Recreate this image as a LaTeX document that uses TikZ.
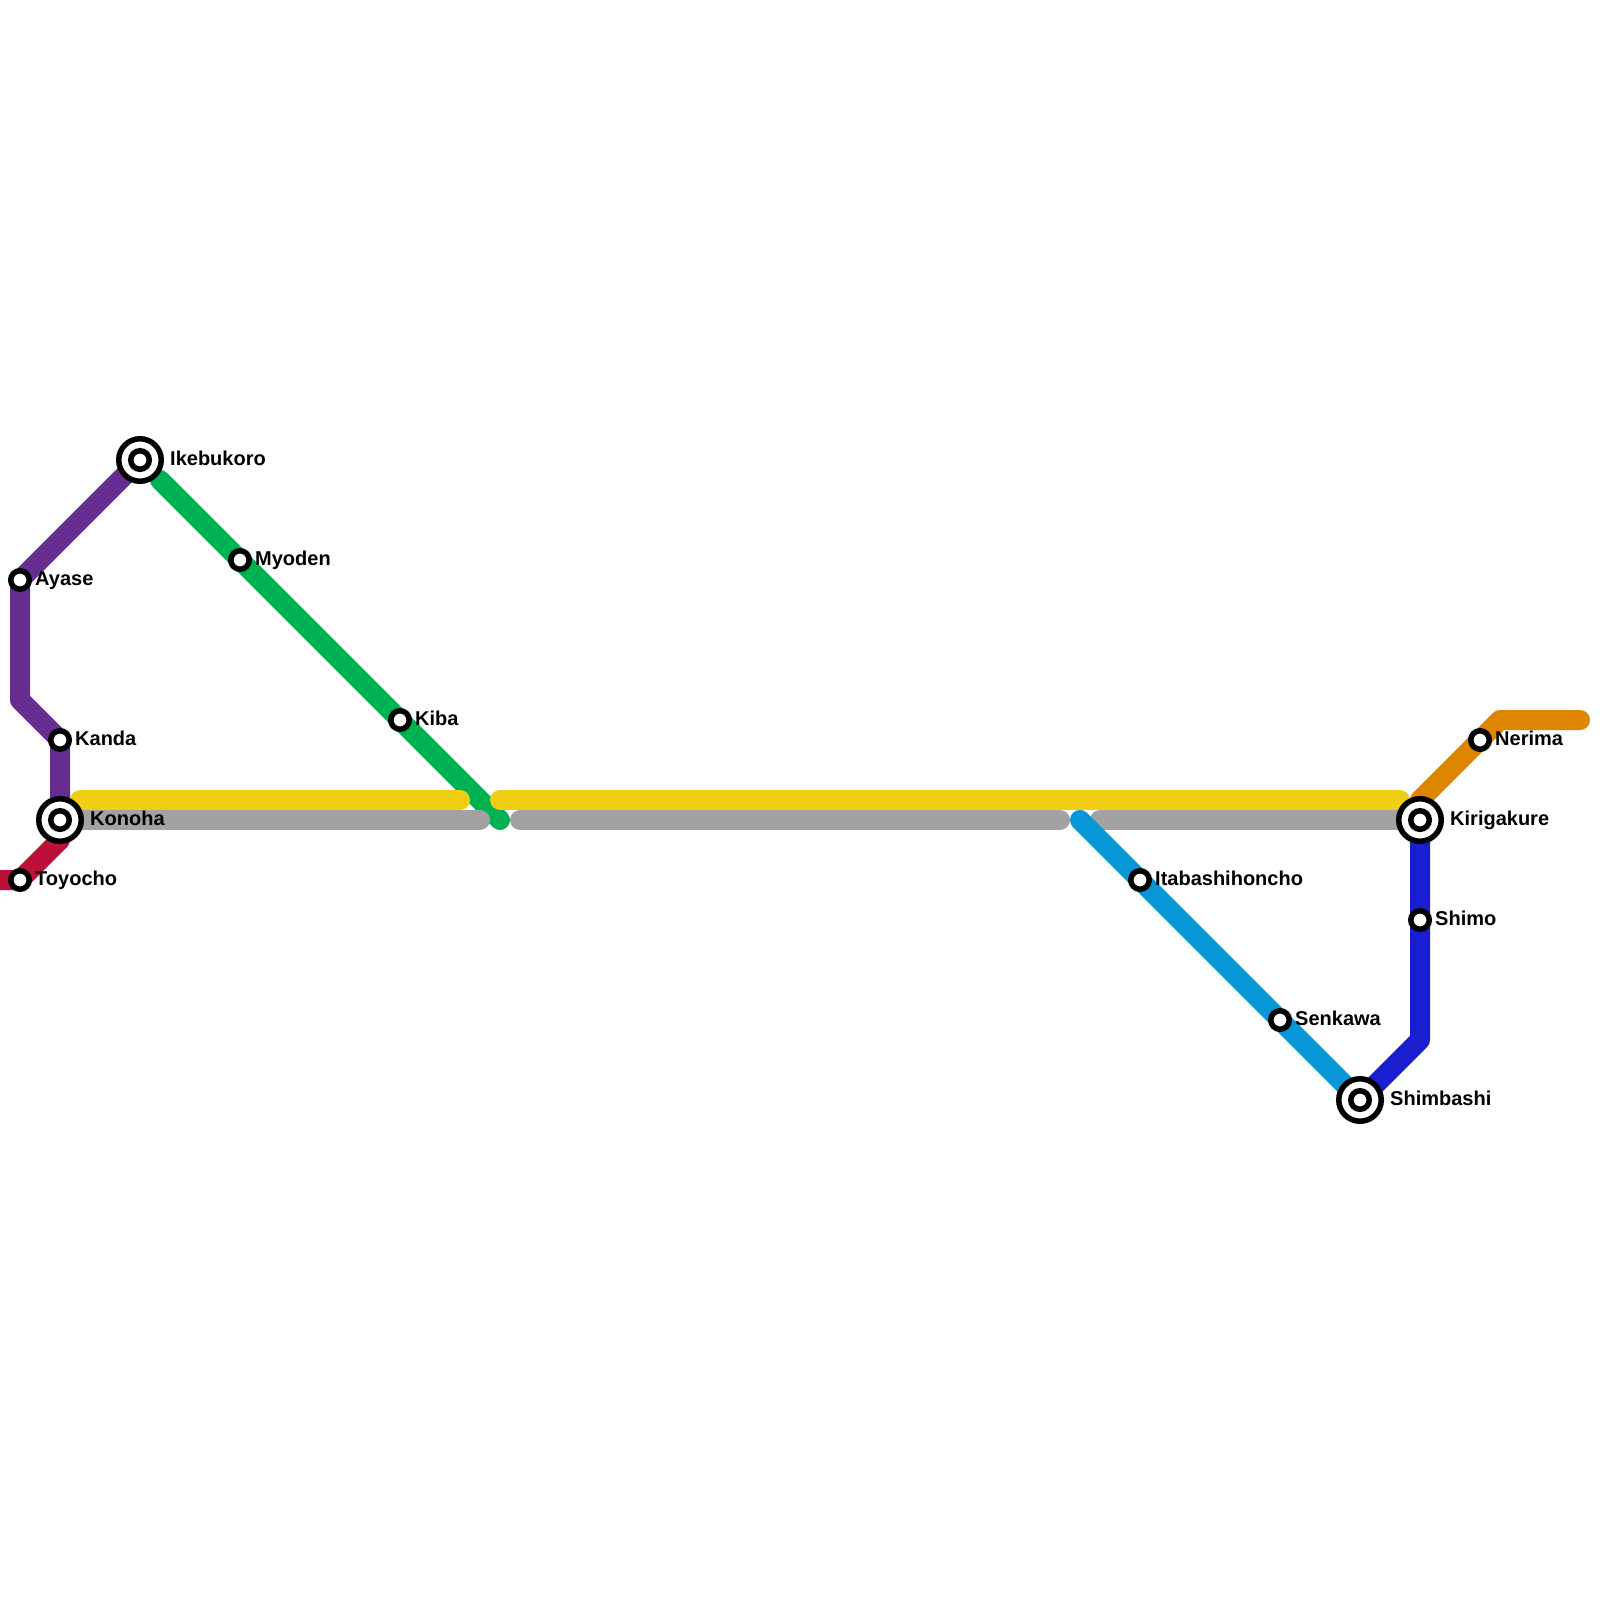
\documentclass[tikz,border=0pt]{standalone}
\usepackage{fontspec}
\setmainfont{Liberation Sans}
\definecolor{cpurple}{HTML}{662C90}
\definecolor{cgreen}{HTML}{00B251}
\definecolor{cyellow}{HTML}{F0CE15}
\definecolor{cgrey}{HTML}{A2A2A2}
\definecolor{ccrimson}{HTML}{BD1038}
\definecolor{csky}{HTML}{0896D7}
\definecolor{cblue}{HTML}{1A1ED1}
\definecolor{corange}{HTML}{DF8600}
\tikzset{
  metro/.style={line width=20pt,line cap=round,line join=round},
  small/.style={circle,draw=black,fill=white,line width=5.5pt,minimum size=18.5pt,inner sep=0pt,outer sep=0pt},
  bigouter/.style={circle,draw=black,fill=white,line width=5.5pt,minimum size=42.5pt,inner sep=0pt,outer sep=0pt},
  biginner/.style={circle,draw=black,fill=white,line width=5.5pt,minimum size=18.5pt,inner sep=0pt,outer sep=0pt},
  lbl/.style={anchor=base west,inner sep=0pt,font=\bfseries\fontsize{20}{24}\selectfont,text=black}
}
\begin{document}
\begin{tikzpicture}[x=1pt,y=-1pt]
\useasboundingbox (0,0) rectangle (1600,1600);
\fill[white] (0,0) rectangle (1600,1600);
% waypoints
\coordinate (pa) at (20,700);
\coordinate (ya) at (80,800);
\coordinate (yb) at (460,800);
\coordinate (yc) at (500,800);
\coordinate (yd) at (1400,800);
\coordinate (ga) at (80,820);
\coordinate (gb) at (480,820);
\coordinate (gc) at (520,820);
\coordinate (gd) at (1060,820);
\coordinate (ge) at (1100,820);
\coordinate (gf) at (1400,820);
\coordinate (gr0) at (160,480);
\coordinate (gr1) at (500,820);
\coordinate (sk) at (1080,820);
\coordinate (or0) at (1420,800);
\coordinate (or1) at (1500,720);
\coordinate (or2) at (1580,720);
\coordinate (bl) at (1420,1040);
\coordinate (cr0) at (60,840);
\coordinate (cr1) at (0,880);
% stations
\path
 (140,460) coordinate (ike)
 (20,580) coordinate (aya)
 (60,740) coordinate (kan)
 (60,820) coordinate (kon)
 (20,880) coordinate (toy)
 (240,560) coordinate (myo)
 (400,720) coordinate (kib)
 (1140,880) coordinate (ita)
 (1280,1020) coordinate (sen)
 (1360,1100) coordinate (shb)
 (1420,820) coordinate (kir)
 (1420,920) coordinate (shm)
 (1480,740) coordinate (ner);
% lines
\draw[metro,cgreen] (gr0) -- (myo) -- (kib) -- (gr1);
\draw[metro,cgrey] (ga) -- (gb);
\draw[metro,cgrey] (gc) -- (gd);
\draw[metro,cgrey] (ge) -- (gf);
\draw[metro,cyellow] (ya) -- (yb);
\draw[metro,cyellow] (yc) -- (yd);
\draw[metro,cpurple] (ike) -- (aya) -- (pa) -- (kan) -- (kon);
\draw[metro,ccrimson,line cap=butt] (cr1) -- (toy) -- (cr0);
\fill[ccrimson] (cr0) circle (10pt);
\draw[metro,csky] (sk) -- (ita) -- (sen) -- (shb);
\draw[metro,cblue] (kir) -- (shm) -- (bl) -- (shb);
\draw[metro,corange] (or0) -- (ner) -- (or1) -- (or2);
% station markers
\node[bigouter] (nike) at (ike) {};
\node[biginner] (nike2) at (ike) {};
\node[bigouter] (nkon) at (kon) {};
\node[biginner] (nkon2) at (kon) {};
\node[bigouter] (nkir) at (kir) {};
\node[biginner] (nkir2) at (kir) {};
\node[bigouter] (nshb) at (shb) {};
\node[biginner] (nshb2) at (shb) {};
\node[small] (naya) at (aya) {};
\node[small] (nkan) at (kan) {};
\node[small] (ntoy) at (toy) {};
\node[small] (nmyo) at (myo) {};
\node[small] (nkib) at (kib) {};
\node[small] (nita) at (ita) {};
\node[small] (nsen) at (sen) {};
\node[small] (nshm) at (shm) {};
\node[small] (nner) at (ner) {};
% labels
\node[lbl] (tike) at (170,465) {Ikebukoro};
\node[lbl] (taya) at (35,585) {Ayase};
\node[lbl] (tkan) at (75,745) {Kanda};
\node[lbl] (tkon) at (90,825) {Konoha};
\node[lbl] (ttoy) at (35,885) {Toyocho};
\node[lbl] (tmyo) at (255,565) {Myoden};
\node[lbl] (tkib) at (415,725) {Kiba};
\node[lbl] (tita) at (1155,885) {Itabashihoncho};
\node[lbl] (tsen) at (1295,1025) {Senkawa};
\node[lbl] (tshb) at (1390,1105) {Shimbashi};
\node[lbl] (tkir) at (1450,825) {Kirigakure};
\node[lbl] (tshm) at (1435,925) {Shimo};
\node[lbl] (tner) at (1495,745) {Nerima};
\end{tikzpicture}
\end{document}
